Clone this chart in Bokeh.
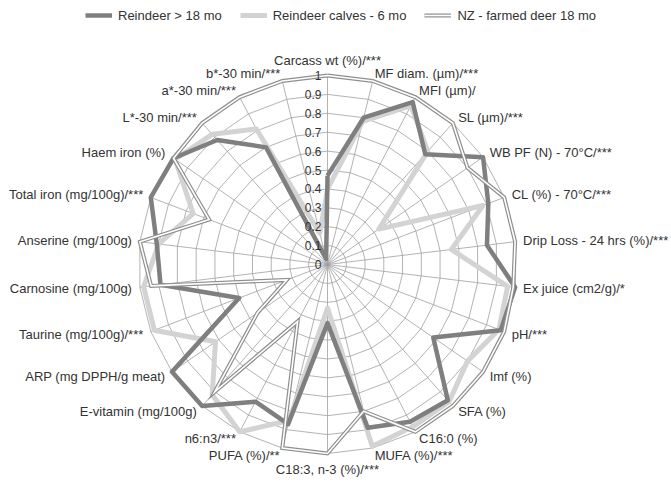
import math
from bokeh.plotting import figure
from bokeh.models import Range1d, Legend, LegendItem
from bokeh.core.properties import value
from bokeh.embed import file_html
from bokeh.resources import INLINE

# ---------------- data ----------------
categories = [
    "Carcass wt (%)/***", "MF diam. (\u00b5m)/***", "MFI (\u00b5m)/", "SL (\u00b5m)/***",
    "WB PF (N) - 70\u00b0C/***", "CL (%) - 70\u00b0C/***", "Drip Loss - 24 hrs (%)/***",
    "Ex juice (cm2/g)/*", "pH/***", "Imf (%)", "SFA (%)", "C16:0 (%)", "MUFA (%)/***",
    "C18:3, n-3 (%)/***", "PUFA (%)/**", "n6:n3/***", "E-vitamin (mg/100g)",
    "ARP (mg DPPH/g meat)", "Taurine (mg/100g)/***", "Carnosine (mg/100g)",
    "Anserine (mg/100g)", "Total iron (mg/100g)/***", "Haem iron (%)",
    "L*-30 min/***", "a*-30 min/***", "b*-30 min/***",
]
reindeer_adult = [0.47, 0.80, 0.97, 0.78, 1.00, 0.91, 0.85, 1.00, 0.98, 0.68, 0.96, 0.94, 0.89,
                  0.31, 0.87, 0.82, 1.00, 1.00, 0.50, 0.89, 0.91, 1.00, 0.99, 0.88, 0.70, 0.03]
reindeer_calves = [0.40, 0.78, 0.95, 0.80, 0.33, 0.88, 0.66, 0.96, 0.97, 0.90, 0.97, 0.97, 0.99,
                   0.23, 0.85, 1.00, 0.92, 0.72, 0.98, 0.98, 0.90, 0.76, 0.98, 0.92, 0.81, 0.17]
nz_farmed = [1.00, 1.00, 1.00, 1.00, 0.90, 1.00, 1.00, 0.99, 1.00, 1.00, 1.00, 1.00, 0.80,
             1.00, 1.00, 0.34, 0.90, 0.45, 0.23, 0.94, 1.00, 0.67, 0.99, 1.00, 1.00, 1.00]
series_names = ["Reindeer > 18 mo", "Reindeer calves - 6 mo", "NZ - farmed deer 18 mo"]
tick_values = [0, 0.1, 0.2, 0.3, 0.4, 0.5, 0.6, 0.7, 0.8, 0.9, 1.0]
tick_labels = ["0", "0.1", "0.2", "0.3", "0.4", "0.5", "0.6", "0.7", "0.8", "0.9", "1"]

# ---------------- layout ----------------
W, H = 671, 483
CX, CY, R = 327, 264, 189
FONT = "Liberation Sans"
TXT = "#333333"
N = len(categories)
angles = [2 * math.pi * i / N for i in range(N)]


def to_xy(vals):
    xs = [CX + v * R * math.sin(a) for v, a in zip(vals, angles)]
    ys = [CY - v * R * math.cos(a) for v, a in zip(vals, angles)]
    return xs + xs[:1], ys + ys[:1]


p = figure(width=W, height=H, output_backend="svg", toolbar_location=None,
           x_range=Range1d(0, W), y_range=Range1d(H, 0),
           x_axis_location=None, y_axis_location=None, min_border=0)
p.grid.visible = False
p.outline_line_color = None

# grid rings
ring_xs, ring_ys = [], []
for t in tick_values[1:]:
    xs, ys = to_xy([t] * N)
    ring_xs.append(xs)
    ring_ys.append(ys)
p.multi_line(ring_xs, ring_ys, line_color="#a0a0a0", line_width=0.8)
# spokes
sx = [[CX, CX + R * math.sin(a)] for a in angles]
sy = [[CY, CY - R * math.cos(a)] for a in angles]
p.multi_line(sx, sy, line_color="#a0a0a0", line_width=0.8)

# series
lx, ly = to_xy(reindeer_calves)
r_light = p.line(lx, ly, line_color="#d3d3d3", line_width=5, line_join="round")
dx, dy = to_xy(reindeer_adult)
r_dark = p.line(dx, dy, line_color="#7f7f7f", line_width=4.5, line_join="round")
nx, ny = to_xy(nz_farmed)
r_nz1 = p.line(nx, ny, line_color="#8f8f8f", line_width=4, line_join="miter")
r_nz2 = p.line(nx, ny, line_color="white", line_width=1.6, line_join="miter")

# tick labels
p.text(x=[CX - 6] * len(tick_values), y=[CY - t * R for t in tick_values], text=tick_labels,
       text_font=value(FONT), text_font_size="12px", text_color=TXT,
       text_align="right", text_baseline="middle")

# category labels
groups = {}
for i, (c, a) in enumerate(zip(categories, angles)):
    s, co = math.sin(a), math.cos(a)
    rr = R + 8
    x, y = CX + rr * s, CY - rr * co
    if abs(s) < 0.05:
        align = "center"
        base = "bottom" if co > 0 else "top"
    else:
        align = "left" if s > 0 else "right"
        base = "middle"
    groups.setdefault((align, base), {"x": [], "y": [], "t": []})
    g = groups[(align, base)]
    g["x"].append(x); g["y"].append(y); g["t"].append(c)
for (align, base), g in groups.items():
    p.text(x=g["x"], y=g["y"], text=g["t"], text_font=value(FONT), text_font_size="13px",
           text_color=TXT, text_align=align, text_baseline=base)

legend = Legend(items=[
    LegendItem(label=series_names[0], renderers=[r_dark]),
    LegendItem(label=series_names[1], renderers=[r_light]),
    LegendItem(label=series_names[2], renderers=[r_nz1, r_nz2]),
], orientation="horizontal", location=(85, H - 24), glyph_width=27, glyph_height=18,
    label_standoff=6, spacing=18, padding=0, margin=0,
    label_text_font=FONT, label_text_font_size="13px", label_text_color=TXT,
    background_fill_alpha=0, border_line_alpha=0)
p.add_layout(legend)

open("out.html", "w").write(file_html(p, INLINE))
